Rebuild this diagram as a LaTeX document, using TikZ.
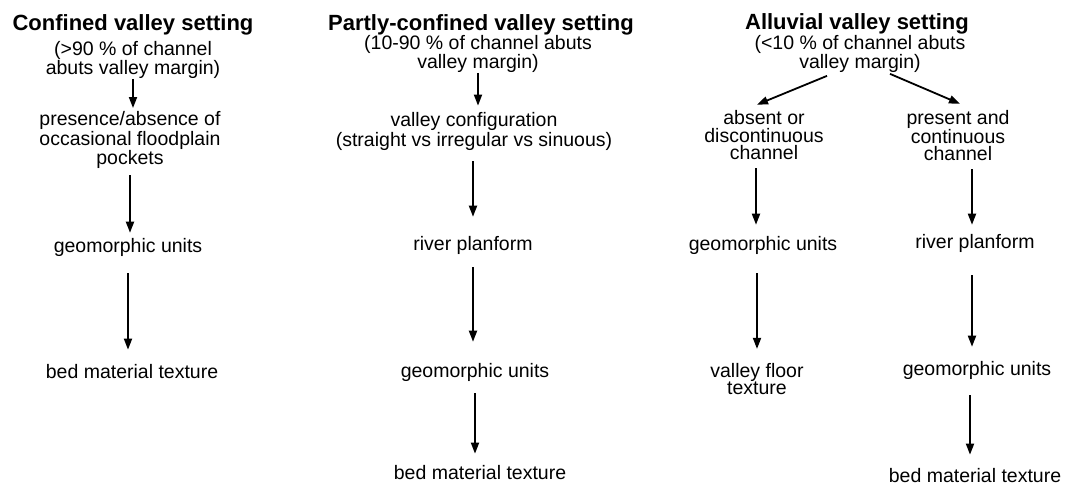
\documentclass[tikz,border=0pt]{standalone}
\usepackage{fontspec}
\setmainfont{Liberation Sans}
\usetikzlibrary{arrows.meta,calc}
\begin{document}
\begin{tikzpicture}[x=1pt,y=-1pt,
  lbl/.style={inner sep=0pt, align=center, font=\fontsize{19.5}{17.5}\selectfont},
  ttl/.style={inner sep=0pt, align=center, font=\fontsize{22}{24}\selectfont\bfseries},
  arr/.style={-{Triangle[length=11pt,width=8pt]}, line width=1.8pt}]
\useasboundingbox (0,0) rectangle (1066,493);

% --- confined valley setting ---
\node[ttl] (t1) at (133,25) {Confined valley setting};
\node[lbl] (s1) at (133,60) {(>90 \% of channel\\abuts valley margin)};
\node[lbl] (p1) at (130,140) {presence/absence of\\occasional floodplain\\pockets};
\node[lbl] (g1) at (128,247) {geomorphic units};
\node[lbl] (b1) at (132,372) {bed material texture};

\draw[arr, shorten >=3.5pt] (s1.south) -- (s1.south |- p1.north);
\draw[arr, shorten <=7pt, shorten >=5pt] (p1.south) -- (p1.south |- g1.north);
\draw[arr, shorten <=17pt, shorten >=15pt] (g1.south) -- (g1.south |- b1.north);

% --- partly-confined valley setting ---
\node[ttl] (t2) at (481,25) {Partly-confined valley setting};
\node[lbl] (s2) at (478,54) {(10-90 \% of channel abuts\\valley margin)};
\node[lbl] (v2) at (474,131.5) {valley configuration\\(straight vs irregular vs sinuous)};
\node[lbl] (r2) at (473,245) {river planform};
\node[lbl] (g2) at (475,372) {geomorphic units};
\node[lbl] (b2) at (480,473) {bed material texture};

\draw[arr, shorten >=7pt] (s2.south) -- (s2.south |- v2.north);
\draw[arr, shorten <=11pt, shorten >=19pt] (r2.north |- v2.south) -- (r2.north);
\draw[arr, shorten <=13pt, shorten >=21pt] (r2.south) -- (r2.south |- g2.north);
\draw[arr, shorten <=12pt, shorten >=12pt] (g2.south) -- (g2.south |- b2.north);

% --- alluvial valley setting ---
\node[ttl] (t3) at (857,24) {Alluvial valley setting};
\node[lbl] (s3) at (860,54) {(<10 \% of channel abuts\\valley margin)};
\node[lbl] (a3) at (764,135.5) {absent or\\discontinuous\\channel};
\node[lbl] (c3) at (958,135.5) {present and\\continuous\\channel};
\node[lbl] (g3) at (763,245) {geomorphic units};
\node[lbl] (f3) at (757,379) {valley floor\\texture};
\node[lbl] (r3) at (975,243) {river planform};
\node[lbl] (h3) at (977,370) {geomorphic units};
\node[lbl] (b3) at (975,476) {bed material texture};

\draw[arr] ($(s3.south)+(-33,3)$) -- ($(a3.north)+(-7,-6)$);
\draw[arr] ($(s3.south)+(30,1)$) -- ($(c3.north)+(2,-6)$);

\draw[arr, shorten <=8pt, shorten >=11pt] ([xshift=-8pt]a3.south) -- ([xshift=-8pt]a3.south |- g3.north);
\draw[arr, shorten <=19pt, shorten >=14pt] (f3.north |- g3.south) -- (f3.north);

\draw[arr, shorten <=8pt, shorten >=9pt] ([xshift=-3pt]r3.north |- c3.south) -- ([xshift=-3pt]r3.north);
\draw[arr, shorten <=23pt, shorten >=14pt] ([xshift=-3pt]r3.south) -- ([xshift=-3pt]r3.south |- h3.north);
\draw[arr, shorten <=16pt, shorten >=14pt] ([xshift=-5pt]b3.north |- h3.south) -- ([xshift=-5pt]b3.north);
\end{tikzpicture}
\end{document}
